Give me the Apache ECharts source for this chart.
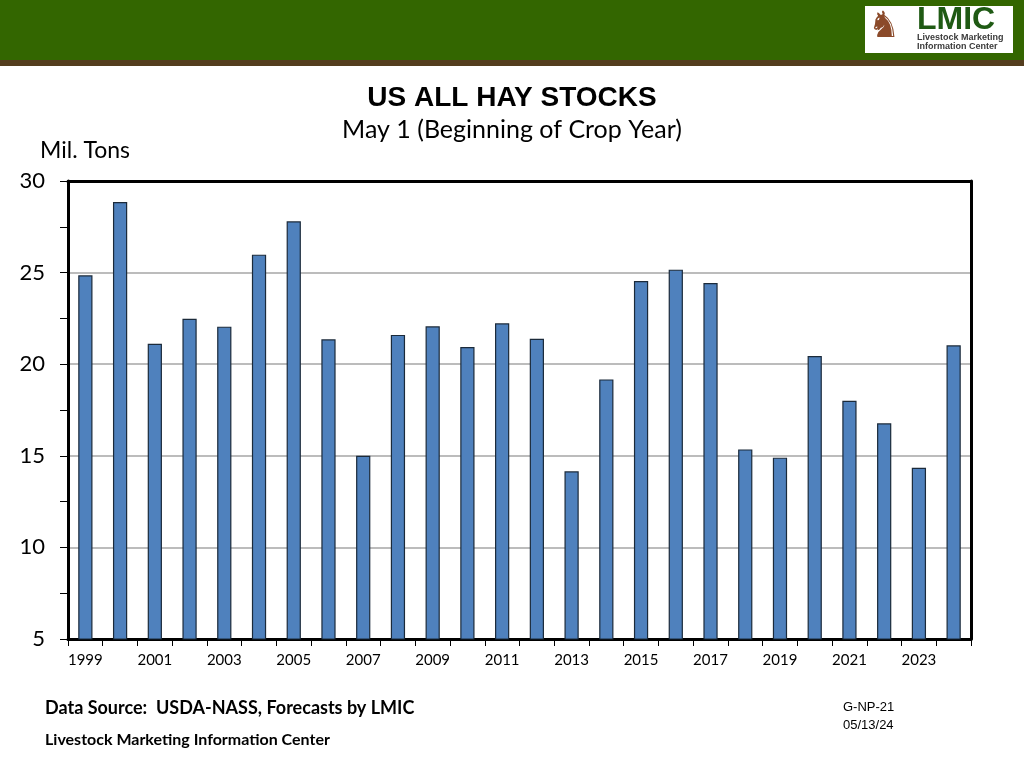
<!DOCTYPE html>
<html>
<head>
<meta charset="utf-8">
<script src="https://cdn.jsdelivr.net/npm/echarts@6/dist/echarts.min.js"></script>
<style>
html,body{margin:0;padding:0;background:#fff;}
#chart{width:1024px;height:768px;}
</style>
</head>
<body>
<div id="chart"></div>
<script>
var years = ['1999','2000','2001','2002','2003','2004','2005','2006','2007','2008','2009','2010','2011','2012','2013','2014','2015','2016','2017','2018','2019','2020','2021','2022','2023','2024'];
var hayStocks = [24.85,28.85,21.12,22.48,22.05,25.98,27.8,21.36,15.0,21.6,22.07,20.94,22.23,21.39,14.15,19.17,24.54,25.16,24.43,15.35,14.9,20.45,18.0,16.77,14.35,21.03];
var yTicks = {min:5, max:30, interval:5};

var chart = echarts.init(document.getElementById('chart'), null, {renderer:'canvas'});
var calib = 'Lato, "Open Sans", sans-serif';
chart.setOption({
  animation:false,
  backgroundColor:'#ffffff',
  grid:{left:68, right:53, top:181, bottom:129},
  xAxis:[{
    type:'category', data:years, boundaryGap:true,
    axisLine:{show:true, lineStyle:{color:'#000', width:3}},
    axisTick:{show:true, interval:0, length:7, lineStyle:{color:'#000', width:1}},
    axisLabel:{interval:1, color:'#000', fontSize:15, fontFamily:calib, margin:14},
    splitLine:{show:false}
  },{
    type:'category', data:years, position:'top',
    axisLine:{show:true, lineStyle:{color:'#000', width:3}},
    axisTick:{show:false}, axisLabel:{show:false}, splitLine:{show:false}
  }],
  yAxis:[{
    type:'value', min:yTicks.min, max:yTicks.max, interval:yTicks.interval,
    axisLine:{show:true, lineStyle:{color:'#000', width:3}},
    axisTick:{show:true, length:8, lineStyle:{color:'#000', width:1}},
    minorTick:{show:true, splitNumber:2, length:8, lineStyle:{color:'#000', width:1}},
    axisLabel:{color:'#000', fontSize:22, fontFamily:calib, margin:23},
    splitLine:{show:true, lineStyle:{color:'#a6a6a6', width:1.5}}
  },{
    type:'value', min:yTicks.min, max:yTicks.max, interval:yTicks.interval, position:'right',
    axisLine:{show:true, lineStyle:{color:'#000', width:3}},
    axisTick:{show:false}, axisLabel:{show:false}, splitLine:{show:false}
  }],
  series:[{
    type:'bar', data:hayStocks, barWidth:'41%', xAxisIndex:0, yAxisIndex:0,
    itemStyle:{color:'#4f81bd', borderColor:'#1b2a3a', borderWidth:1.2}
  }],
  graphic:[
    {type:'rect', left:0, top:0, shape:{width:1024, height:60}, style:{fill:'#336600'}, z:10},
    {type:'rect', left:0, top:60, shape:{width:1024, height:6}, style:{fill:'#543d1e'}, z:10},
    {type:'rect', left:865, top:6, shape:{width:148, height:47}, style:{fill:'#ffffff'}, z:11},
    {type:'text', left:868, top:10, style:{text:'♞', fill:'#8b4a2a', font:'36px "DejaVu Sans"'}, z:12},
    {type:'text', left:917, top:4, style:{text:'LMIC', fill:'#1f5a14', font:'bold 32px "Liberation Sans", Arial'}, z:12},
    {type:'text', left:917, top:33, style:{text:'Livestock Marketing', fill:'#3b3b3b', font:'bold 9px "Liberation Sans", Arial'}, z:12},
    {type:'text', left:917, top:42, style:{text:'Information Center', fill:'#3b3b3b', font:'bold 9px "Liberation Sans", Arial'}, z:12},
    {type:'text', left:'center', top:84, style:{text:'US ALL HAY STOCKS', fill:'#000', font:'bold 28px "Liberation Sans", Arial', textAlign:'center'}},
    {type:'text', left:'center', top:117, style:{text:'May 1 (Beginning of Crop Year)', fill:'#000', font:'25px ' + calib, textAlign:'center'}},
    {type:'text', left:40, top:139, style:{text:'Mil. Tons', fill:'#000', font:'23px ' + calib}},
    {type:'text', left:45, top:699, style:{text:'Data Source:  USDA-NASS, Forecasts by LMIC', fill:'#000', font:'bold 18px ' + calib}},
    {type:'text', left:45, top:732, style:{text:'Livestock Marketing Information Center', fill:'#000', font:'bold 16px ' + calib}},
    {type:'text', left:843, top:701, style:{text:'G-NP-21', fill:'#000', font:'13px "Liberation Sans", Arial'}},
    {type:'text', left:843, top:719, style:{text:'05/13/24', fill:'#000', font:'13px "Liberation Sans", Arial'}}
  ]
});
</script>
</body>
</html>
